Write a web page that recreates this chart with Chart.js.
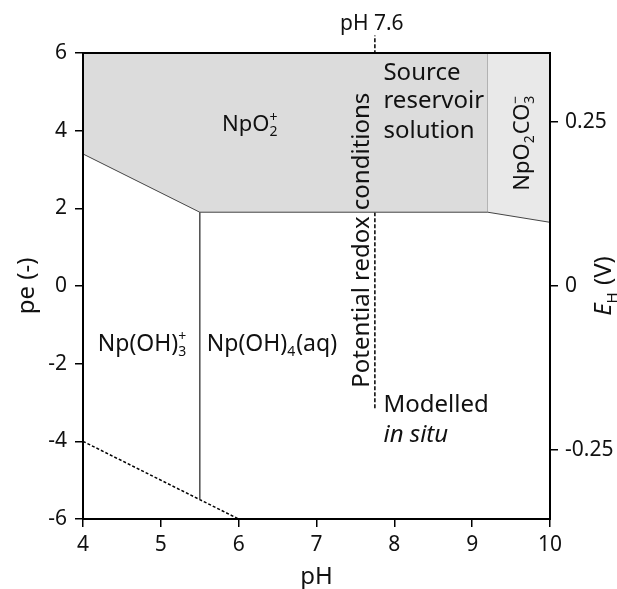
<!DOCTYPE html>
<html>
<head>
<meta charset="utf-8">
<script src="https://cdn.jsdelivr.net/npm/chart.js@4.4.0/dist/chart.umd.min.js"></script>
<style>
html, body { margin: 0; padding: 0; background: #fff; }
</style>
</head>
<body>
<canvas id="myChart" width="617" height="589"></canvas>
<script>
var FONT = '"Noto Sans", "Open Sans", sans-serif';

// axes
var pHTicks = [4, 5, 6, 7, 8, 9, 10];
var peTicks = [-6, -4, -2, 0, 2, 4, 6];
var ehTicks = [-0.25, 0, 0.25];
var VOLT_PER_PE = 0.05916;

// field boundaries (pH, pe)
var npo2LowerPH = [4, 5.5, 9.2];
var npo2LowerPe = [3.4, 1.9, 1.9];
var carbLowerPH = [9.2, 10];
var carbLowerPe = [1.9, 1.64];
var carbEdgePH = [9.2, 9.2];
var carbEdgePe = [1.9, 6];
var hydroxEdgePH = [5.5, 5.5];
var hydroxEdgePe = [1.9, -5.5];
var waterLimitPH = [4, 6];
var waterLimitPe = [-4, -6];
var redoxPH = [7.75, 7.75];
var redoxPe = [-3.15, 6.45];

function pts(xs, ys) {
    return xs.map(function (x, i) { return { x: x, y: ys[i] }; });
}

function lineSet(xs, ys, extra) {
    var ds = {
        data: pts(xs, ys),
        borderColor: '#555',
        borderWidth: 1,
        pointRadius: 0,
        fill: false,
        tension: 0
    };
    for (var k in extra) ds[k] = extra[k];
    return ds;
}

// small rich-text helper for sub/superscripts
function partFont(p, size) {
    return (p.i ? 'italic ' : '') + size + 'px ' + FONT;
}
function richWidth(ctx, parts, size) {
    var w = 0;
    parts.forEach(function (p) {
        if (p.t !== undefined) {
            ctx.font = partFont(p, size);
            w += ctx.measureText(p.t).width;
        } else {
            ctx.font = Math.round(size * 0.62) + 'px ' + FONT;
            w += Math.max(p.sub ? ctx.measureText(p.sub).width : 0, p.sup ? ctx.measureText(p.sup).width : 0) + 1;
        }
    });
    return w;
}
function drawRich(ctx, parts, x, y, size, align) {
    var cx = align === 'center' ? x - richWidth(ctx, parts, size) / 2 : x;
    ctx.textAlign = 'left';
    ctx.textBaseline = 'alphabetic';
    parts.forEach(function (p) {
        if (p.t !== undefined) {
            ctx.font = partFont(p, size);
            ctx.fillText(p.t, cx, y);
            cx += ctx.measureText(p.t).width;
        } else {
            ctx.font = Math.round(size * 0.62) + 'px ' + FONT;
            var w = 0;
            if (p.sub) { ctx.fillText(p.sub, cx, y + size * 0.24); w = ctx.measureText(p.sub).width; }
            if (p.sup) { ctx.fillText(p.sup, cx, y - size * 0.42); w = Math.max(w, ctx.measureText(p.sup).width); }
            cx += w + 1;
        }
    });
}

var labelPlugin = {
    id: 'labels',
    afterDatasetsDraw: function (chart) {
        var ctx = chart.ctx;
        var xs = chart.scales.x, ys = chart.scales.y;
        var a = chart.chartArea;
        function X(v) { return xs.getPixelForValue(v); }
        function Y(v) { return ys.getPixelForValue(v); }

        ctx.save();
        // frame
        ctx.strokeStyle = '#000';
        ctx.lineWidth = 2;
        ctx.strokeRect(a.left, a.top, a.right - a.left, a.bottom - a.top);

        ctx.fillStyle = '#111';
        drawRich(ctx, [{ t: 'NpO' }, { sub: '2', sup: '+' }], X(6.15), Y(3.99), 22, 'center');

        ctx.font = '24px ' + FONT;
        ctx.textAlign = 'left';
        ctx.textBaseline = 'alphabetic';
        ctx.fillText('Source', X(7.86), Y(5.3));
        ctx.fillText('reservoir', X(7.86), Y(4.58));
        ctx.fillText('solution', X(7.86), Y(3.81));
        ctx.fillText('Modelled', X(7.86), Y(-3.24));
        ctx.font = 'italic 24px ' + FONT;
        ctx.fillText('in situ', X(7.86), Y(-4.01));

        drawRich(ctx, [{ t: 'Np(OH)' }, { sub: '3', sup: '+' }], X(4.19), Y(-1.67), 23, 'left');
        drawRich(ctx, [{ t: 'Np(OH)' }, { sub: '4' }, { t: '(aq)' }], X(5.59), Y(-1.67), 23, 'left');

        ctx.font = '21px ' + FONT;
        ctx.textAlign = 'center';
        ctx.fillText('pH 7.6', X(7.71), Y(6.59));

        // rotated labels
        ctx.save();
        ctx.translate(X(7.59), Y(1.18));
        ctx.rotate(-Math.PI / 2);
        ctx.font = '24px ' + FONT;
        ctx.textAlign = 'center';
        ctx.textBaseline = 'middle';
        ctx.fillText('Potential redox conditions', 0, 0);
        ctx.restore();

        ctx.save();
        ctx.translate(X(9.73), Y(3.69));
        ctx.rotate(-Math.PI / 2);
        drawRich(ctx, [{ t: 'NpO' }, { sub: '2' }, { t: 'CO' }, { sub: '3', sup: '\u2212' }], 0, 0, 22, 'center');
        ctx.restore();

        // right axis title E_H (V)
        ctx.save();
        ctx.translate(611, (a.top + a.bottom) / 2);
        ctx.rotate(-Math.PI / 2);
        drawRich(ctx, [{ t: 'E', i: true }, { sub: 'H' }, { t: ' (V)' }], 0, 0, 24, 'center');
        ctx.restore();

        ctx.restore();
    }
};

var ctx = document.getElementById('myChart').getContext('2d');
var tickFont = { family: FONT, size: 21 };

var myChart = new Chart(ctx, {
    type: 'line',
    data: {
        datasets: [
            lineSet(npo2LowerPH, npo2LowerPe, { fill: 'end', backgroundColor: '#dcdcdc', borderColor: '#444' }),
            lineSet(carbLowerPH, carbLowerPe, { fill: 'end', backgroundColor: '#e9e9e9', borderColor: '#444' }),
            lineSet(carbEdgePH, carbEdgePe, {}),
            lineSet(hydroxEdgePH, hydroxEdgePe, {}),
            lineSet(waterLimitPH, waterLimitPe, { borderColor: '#000', borderWidth: 1.5, borderDash: [3, 2] }),
            lineSet(redoxPH, redoxPe, { borderColor: '#000', borderWidth: 1.5, borderDash: [4, 2], clip: false })
        ]
    },
    options: {
        responsive: false,
        animation: false,
        layout: { padding: { top: 53, left: 0, right: 0, bottom: 0 } },
        plugins: { legend: { display: false }, tooltip: { enabled: false } },
        scales: {
            x: {
                type: 'linear',
                min: 4, max: 10,
                afterBuildTicks: function (s) { s.ticks = pHTicks.map(function (v) { return { value: v }; }); },
                afterFit: function (s) { s.height = 70; },
                grid: { drawOnChartArea: false, drawTicks: true, tickLength: 8, color: '#000', lineWidth: 1.5 },
                border: { display: false },
                ticks: { font: tickFont, color: '#111', padding: 5, maxRotation: 0, callback: function (v) { return String(v); } },
                title: { display: true, text: 'pH', font: { family: FONT, size: 24, lineHeight: 1 }, color: '#111', padding: { top: 0, bottom: 0 } }
            },
            y: {
                type: 'linear',
                position: 'left',
                min: -6, max: 6,
                afterBuildTicks: function (s) { s.ticks = peTicks.map(function (v) { return { value: v }; }); },
                afterFit: function (s) { s.width = 83; },
                grid: { drawOnChartArea: false, drawTicks: true, tickLength: 8, color: '#000', lineWidth: 1.5 },
                border: { display: false },
                ticks: { font: tickFont, color: '#111', padding: 8, callback: function (v) { return String(v); } },
                title: { display: true, text: 'pe (-)', font: { family: FONT, size: 24, lineHeight: 1 }, color: '#111', padding: { top: 15, bottom: 0 } }
            },
            y1: {
                type: 'linear',
                position: 'right',
                min: -6 * VOLT_PER_PE, max: 6 * VOLT_PER_PE,
                afterBuildTicks: function (s) { s.ticks = ehTicks.map(function (v) { return { value: v }; }); },
                afterFit: function (s) { s.width = 67; },
                grid: { drawOnChartArea: false, drawTicks: true, tickLength: 8, color: '#000', lineWidth: 1.5 },
                border: { display: false },
                ticks: { font: tickFont, color: '#111', padding: 7, callback: function (v) { return String(v); } }
            }
        }
    },
    plugins: [labelPlugin]
});
</script>
</body>
</html>
